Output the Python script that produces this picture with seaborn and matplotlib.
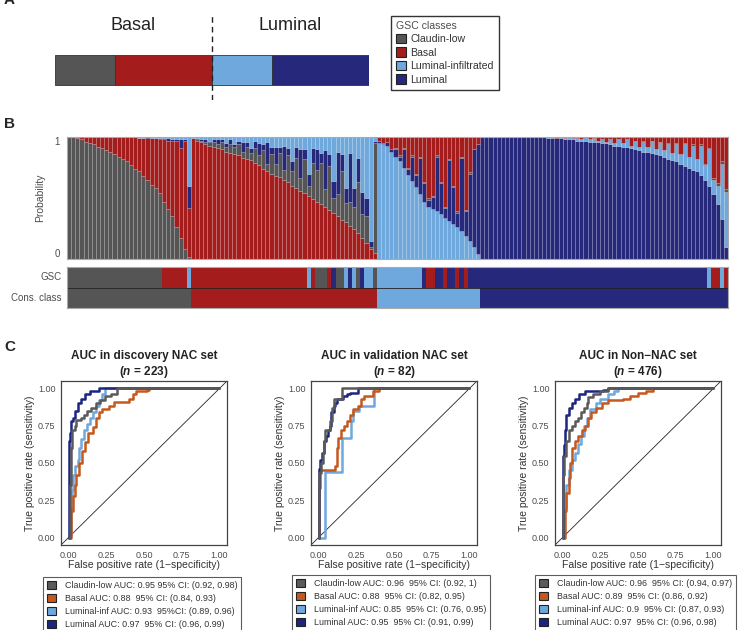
import numpy as np
import pandas as pd
import matplotlib
matplotlib.use("Agg")
import matplotlib.pyplot as plt
from matplotlib.colors import ListedColormap
from matplotlib.patches import Patch
import seaborn as sns

# ---------------- data ----------------
classes = ["Claudin-low", "Basal", "Luminal-infiltrated", "Luminal"]
codes = ["C", "B", "I", "L"]
class_share = [0.19, 0.31, 0.19, 0.31]  # panel A proportions

# panel B: class probabilities (%) per sample, grouped by consensus class
p_claudin = [100, 100, 99, 98, 96, 95, 94, 92, 91, 89, 88, 86, 84, 82, 80, 77, 74, 72, 68, 65, 61, 58, 54, 47, 41, 35, 26, 17, 8, 2,
             0, 1, 1, 2, 3, 4, 3, 6, 4, 7, 6, 9, 5, 10, 6, 12, 8, 15, 6, 16, 10, 20, 8, 22, 12, 25, 10, 28, 8, 30, 26, 34, 14, 36, 12, 18, 40, 16, 20, 18, 42, 20, 22, 2, 90,
             0, 0, 0, 0, 1, 1, 1, 1, 1, 1, 1, 1, 2, 1, 1, 1, 1, 1, 1, 1, 1, 1, 1, 0, 0,
             0, 0, 0, 0, 0, 0, 0, 0, 0, 0, 0, 0, 0, 0, 0, 0, 0, 0, 0, 0, 0, 0, 0, 0, 0, 0, 0, 0, 0, 0,
             0, 0, 0, 0, 0, 0, 0, 0, 0, 1, 0, 0, 0, 0, 0, 1, 0, 1, 0, 1, 0, 1, 0, 1, 1, 1, 1, 2, 2, 2]
p_basal = [0, 0, 1, 2, 4, 5, 6, 8, 9, 11, 12, 14, 16, 18, 20, 23, 26, 27, 31, 34, 38, 41, 44, 51, 56, 62, 71, 74, 89, 40,
           99, 97, 96, 94, 93, 92, 91, 90, 88, 87, 86, 85, 83, 82, 81, 79, 77, 74, 72, 70, 68, 67, 65, 63, 60, 58, 56, 54, 52, 49, 47, 45, 43, 40, 38, 35, 32, 30, 27, 25, 21, 17, 13, 8, 5,
           3, 5, 4, 10, 9, 15, 9, 25, 15, 30, 16, 37, 50, 48, 15, 37, 57, 18, 40, 61, 16, 60, 29, 10, 6,
           0, 0, 0, 0, 0, 0, 0, 0, 0, 0, 0, 0, 0, 0, 0, 0, 0, 0, 1, 0, 1, 0, 1, 1, 2, 0, 2, 1, 3, 2,
           4, 2, 5, 2, 5, 2, 7, 3, 8, 3, 8, 3, 10, 4, 11, 5, 13, 5, 14, 5, 16, 6, 18, 6, 22, 9, 34, 38, 20, 43]
p_luminf = [0, 0, 0, 0, 0, 0, 0, 0, 0, 0, 0, 0, 0, 0, 0, 0, 0, 1, 1, 0, 1, 1, 1, 1, 1, 2, 2, 2, 2, 40,
            1, 1, 2, 2, 3, 2, 2, 2, 5, 2, 6, 3, 4, 4, 9, 3, 5, 6, 4, 8, 8, 8, 7, 9, 20, 8, 10, 10, 30, 9, 10, 13, 11, 14, 36, 12, 14, 42, 13, 42, 17, 45, 50, 85, 3,
            95, 94, 93, 88, 84, 80, 75, 69, 64, 59, 53, 47, 43, 41, 39, 37, 34, 31, 29, 26, 23, 19, 15, 10, 4,
            0, 0, 0, 0, 0, 0, 0, 0, 0, 0, 0, 0, 0, 0, 0, 0, 1, 1, 0, 1, 1, 2, 1, 2, 1, 3, 2, 3, 1, 3,
            1, 4, 2, 5, 3, 6, 2, 7, 3, 8, 4, 10, 4, 11, 5, 12, 6, 14, 8, 18, 9, 20, 10, 24, 12, 30, 12, 15, 45, 45]
p_luminal = [0, 0, 0, 0, 0, 0, 0, 0, 0, 0, 0, 0, 0, 0, 0, 0, 0, 0, 0, 1, 0, 0, 1, 1, 2, 1, 1, 7, 1, 18,
             0, 1, 1, 2, 1, 2, 4, 2, 3, 4, 2, 3, 8, 4, 4, 6, 10, 5, 18, 6, 14, 5, 20, 6, 8, 9, 24, 8, 10, 12, 17, 8, 32, 10, 14, 35, 14, 12, 40, 15, 20, 18, 15, 5, 2,
             2, 1, 3, 2, 6, 4, 15, 5, 20, 10, 30, 15, 5, 10, 45, 25, 8, 50, 30, 12, 60, 20, 55, 80, 90,
             100, 100, 100, 100, 100, 100, 100, 100, 100, 100, 100, 100, 100, 100, 100, 100, 99, 99, 99, 99, 98, 98, 98, 97, 97, 97, 96, 96, 96, 95,
             95, 94, 93, 93, 92, 92, 91, 90, 89, 88, 88, 87, 86, 85, 84, 82, 81, 80, 78, 76, 75, 73, 72, 69, 65, 60, 53, 45, 33, 10]

cons_runs = [("C", 30), ("B", 45), ("I", 25), ("L", 60)]
gsc_runs = [("C", 23), ("B", 6), ("I", 1),
            ("B", 28), ("I", 1), ("B", 1), ("C", 3), ("B", 1), ("L", 1), ("C", 2), ("I", 1), ("L", 1),
            ("I", 1), ("C", 1), ("L", 1), ("I", 2), ("C", 1),
            ("I", 11), ("L", 1), ("B", 2), ("L", 2), ("B", 1), ("L", 2), ("B", 1), ("L", 1), ("B", 1), ("L", 3),
            ("L", 55), ("I", 1), ("B", 2), ("I", 1), ("B", 1)]

# panel C: ROC curves (fpr, tpr)
disc_claudin = [(0, 0), (0.01, 0.35), (0.015, 0.6), (0.02, 0.72), (0.04, 0.75), (0.05, 0.79), (0.08, 0.80), (0.10, 0.82),
                (0.12, 0.85), (0.15, 0.87), (0.18, 0.90), (0.21, 0.92), (0.24, 0.95), (0.28, 0.96), (0.32, 1.0), (1, 1)]
disc_basal = [(0, 0), (0.01, 0.0), (0.015, 0.18), (0.03, 0.28), (0.04, 0.35), (0.05, 0.42), (0.07, 0.5), (0.09, 0.58),
              (0.11, 0.64), (0.13, 0.70), (0.16, 0.74), (0.18, 0.80), (0.20, 0.84), (0.22, 0.86), (0.27, 0.88), (0.30, 0.91),
              (0.40, 0.93), (0.43, 0.96), (0.45, 0.98), (0.52, 0.99), (0.53, 1.0), (1, 1)]
disc_luminf = [(0, 0), (0.01, 0.02), (0.015, 0.2), (0.02, 0.32), (0.03, 0.42), (0.04, 0.48), (0.06, 0.52), (0.07, 0.6),
               (0.08, 0.66), (0.10, 0.72), (0.12, 0.76), (0.14, 0.8), (0.16, 0.84), (0.18, 0.88), (0.20, 0.92), (0.22, 0.96),
               (0.24, 1.0), (1, 1)]
disc_luminal = [(0, 0), (0, 0.45), (0.005, 0.65), (0.01, 0.70), (0.015, 0.78), (0.03, 0.80), (0.04, 0.85), (0.06, 0.90),
                (0.08, 0.93), (0.11, 0.96), (0.14, 0.98), (0.20, 1.0), (1, 1)]

val_claudin = [(0, 0), (0, 0.43), (0.015, 0.5), (0.03, 0.57), (0.035, 0.65), (0.045, 0.72), (0.07, 0.72), (0.075, 0.78),
               (0.09, 0.87), (0.10, 0.93), (0.145, 0.93), (0.155, 1.0), (1, 1)]
val_basal = [(0, 0), (0, 0.2), (0.005, 0.33), (0.01, 0.45), (0.10, 0.45), (0.11, 0.48), (0.12, 0.6), (0.13, 0.67),
             (0.15, 0.72), (0.17, 0.75), (0.19, 0.78), (0.21, 0.82), (0.23, 0.86), (0.26, 0.88), (0.28, 0.93), (0.30, 0.95),
             (0.34, 0.95), (0.36, 0.98), (0.40, 1.0), (1, 1)]
val_luminf = [(0, 0), (0.04, 0), (0.045, 0.44), (0.15, 0.44), (0.155, 0.67), (0.21, 0.67), (0.215, 0.78), (0.23, 0.85),
              (0.27, 0.88), (0.36, 0.88), (0.365, 1.0), (1, 1)]
val_luminal = [(0, 0), (0, 0.46), (0.01, 0.52), (0.02, 0.57), (0.035, 0.65), (0.05, 0.68), (0.06, 0.72), (0.075, 0.75),
               (0.085, 0.84), (0.10, 0.88), (0.11, 0.90), (0.125, 0.93), (0.16, 0.95), (0.19, 0.96), (0.21, 0.97), (0.26, 1.0), (1, 1)]

non_claudin = [(0, 0), (0, 0.42), (0.01, 0.55), (0.025, 0.65), (0.04, 0.72), (0.06, 0.75), (0.08, 0.78), (0.10, 0.80),
               (0.12, 0.84), (0.14, 0.87), (0.16, 0.90), (0.17, 0.94), (0.20, 0.96), (0.25, 0.98), (0.30, 1.0), (1, 1)]
non_basal = [(0, 0), (0.01, 0), (0.015, 0.18), (0.025, 0.3), (0.04, 0.4), (0.05, 0.5), (0.06, 0.6), (0.08, 0.65),
             (0.10, 0.68), (0.13, 0.72), (0.15, 0.75), (0.17, 0.80), (0.19, 0.84), (0.22, 0.87), (0.26, 0.90), (0.30, 0.92),
             (0.40, 0.93), (0.45, 0.95), (0.50, 0.97), (0.55, 0.98), (0.60, 1.0), (1, 1)]
non_luminf = [(0, 0), (0.005, 0.0), (0.01, 0.2), (0.02, 0.35), (0.04, 0.45), (0.06, 0.52), (0.08, 0.57), (0.10, 0.63),
              (0.12, 0.68), (0.14, 0.75), (0.16, 0.80), (0.18, 0.86), (0.22, 0.90), (0.25, 0.93), (0.30, 0.96), (0.34, 0.98),
              (0.37, 1.0), (1, 1)]
non_luminal = [(0, 0), (0, 0.55), (0.01, 0.62), (0.015, 0.72), (0.025, 0.82), (0.04, 0.87), (0.06, 0.90), (0.08, 0.93),
               (0.11, 0.96), (0.15, 0.98), (0.20, 0.985), (0.27, 0.99), (0.30, 1.0), (1, 1)]

disc_labels = ["Claudin-low AUC: 0.95 95% CI: (0.92, 0.98)", "Basal AUC: 0.88  95% CI: (0.84, 0.93)",
               "Luminal-inf AUC: 0.93  95%CI: (0.89, 0.96)", "Luminal AUC: 0.97  95% CI: (0.96, 0.99)"]
val_labels = ["Claudin-low AUC: 0.96  95% CI: (0.92, 1)", "Basal AUC: 0.88  95% CI: (0.82, 0.95)",
              "Luminal-inf AUC: 0.85  95% CI: (0.76, 0.95)", "Luminal AUC: 0.95  95% CI: (0.91, 0.99)"]
non_labels = ["Claudin-low AUC: 0.96  95% CI: (0.94, 0.97)", "Basal AUC: 0.89  95% CI: (0.86, 0.92)",
              "Luminal-inf AUC: 0.9  95% CI: (0.87, 0.93)", "Luminal AUC: 0.97  95% CI: (0.96, 0.98)"]

# ---------------- style ----------------
sns.set_theme(style="white")
plt.rcParams["font.family"] = ["Liberation Sans", "DejaVu Sans"]
plt.rcParams["mathtext.fontset"] = "custom"
plt.rcParams["mathtext.rm"] = "Liberation Sans"
plt.rcParams["mathtext.it"] = "Liberation Sans:italic"
plt.rcParams["mathtext.bf"] = "Liberation Sans:bold"
plt.rcParams["mathtext.bfit"] = "Liberation Sans:bold:italic"

cls_col = {"C": "#555555", "B": "#a51c1c", "I": "#6fa8dc", "L": "#26297b"}
roc_col = {"Claudin-low": "#5a5a5a", "Basal": "#c5581d", "Luminal-inf": "#6fa8dc", "Luminal": "#1d2580"}
txt_col = "#4d4d4d"

W, H = 740, 630
fig = plt.figure(figsize=(7.4, 6.3), dpi=100)


def px_axes(x0, y0, x1, y1):
    return fig.add_axes([x0 / W, 1 - y1 / H, (x1 - x0) / W, (y1 - y0) / H])


# ---------------- panel A ----------------
axa = px_axes(55, 0, 369, 100)
left = 0
for c, s in zip(codes, class_share):
    axa.barh(0.30, s, left=left, height=0.30, color=cls_col[c], edgecolor="#333333", linewidth=0.6)
    left += s
split = class_share[0] + class_share[1]
axa.plot([split, split], [0.0, 0.85], ls=(0, (4, 3)), color="#222222", lw=1)
axa.text(split / 2, 0.75, "Basal", ha="center", va="center", fontsize=13, color="#222222")
axa.text(split + (1 - split) / 2, 0.75, "Luminal", ha="center", va="center", fontsize=13, color="#222222")
axa.set_xlim(0, 1)
axa.set_ylim(0, 1)
axa.axis("off")

leg_a = fig.legend(handles=[Patch(facecolor=cls_col[c], edgecolor="#222222", lw=0.8, label=l) for c, l in zip(codes, classes)],
                   title="GSC classes", loc="upper left", bbox_to_anchor=(391 / W, 1 - 16 / H), fontsize=7.6,
                   title_fontsize=7.6, frameon=True, fancybox=False, edgecolor="black", handlelength=1.0,
                   handleheight=1.0, handletextpad=0.4, labelspacing=0.3, borderpad=0.45, borderaxespad=0,
                   alignment="left")
leg_a.get_frame().set_linewidth(1.0)
leg_a.get_title().set_color(txt_col)
for t in leg_a.get_texts():
    t.set_color("#333333")

# ---------------- panel B ----------------
probs = {"C": np.array(p_claudin, float), "B": np.array(p_basal, float),
         "I": np.array(p_luminf, float), "L": np.array(p_luminal, float)}
total = sum(probs.values())
for k in probs:
    probs[k] = probs[k] / total
cons = [c for c, n in cons_runs for _ in range(n)]
gsc = [c for c, n in gsc_runs for _ in range(n)]
N = len(cons)
stack_order = {"C": ["C", "B", "L", "I"], "B": ["B", "C", "L", "I"],
               "I": ["I", "L", "C", "B"], "L": ["L", "I", "C", "B"]}

axb = px_axes(67, 137, 728, 259)
xs = np.arange(N)
bottom = np.zeros(N)
for level in range(4):
    lv = [stack_order[cons[i]][level] for i in range(N)]
    h = np.array([probs[lv[i]][i] for i in range(N)])
    axb.bar(xs, h, bottom=bottom, width=1.0, color=[cls_col[c] for c in lv],
            edgecolor=(1, 1, 1, 0.18), linewidth=0.4)
    bottom += h
axb.set_xlim(-0.5, N - 0.5)
axb.set_ylim(0, 1)
axb.set_xticks([])
axb.set_yticks([0, 1])
axb.set_yticklabels(["0", "1"], fontsize=7, color=txt_col)
axb.get_yticklabels()[0].set_va("bottom")
axb.get_yticklabels()[1].set_va("top")
axb.tick_params(axis="y", length=0, pad=5)
axb.set_ylabel("Probability", fontsize=7.5, color=txt_col, labelpad=7)
for sp in axb.spines.values():
    sp.set_color("#aaaaaa")
    sp.set_linewidth(0.8)

axs = px_axes(67, 267, 728, 308)
strip = np.array([[codes.index(c) for c in gsc], [codes.index(c) for c in cons]])
sns.heatmap(strip, ax=axs, cmap=ListedColormap([cls_col[c] for c in codes]), vmin=-0.5, vmax=3.5,
            cbar=False, xticklabels=False, yticklabels=["GSC", "Cons. class"], linewidths=0)
axs.axhline(1, color="#222222", lw=0.6)
axs.set_yticklabels(["GSC", "Cons. class"], rotation=0, fontsize=7, color=txt_col)
axs.tick_params(axis="y", length=0, pad=4)
for sp in axs.spines.values():
    sp.set_visible(True)
    sp.set_color("#aaaaaa")
    sp.set_linewidth(0.8)

# ---------------- panel C ----------------
names = ["Claudin-low", "Basal", "Luminal-inf", "Luminal"]
draw_order = ["Luminal-inf", "Basal", "Luminal", "Claudin-low"]


def roc_panel(box, curves, title, n, labels, leg_xy):
    ax = px_axes(*box)
    df = pd.concat([pd.DataFrame({"fpr": [p[0] for p in pts], "tpr": [p[1] for p in pts], "cls": nm})
                    for nm, pts in zip(names, curves)], ignore_index=True)
    ax.axline((0, 0), (1, 1), color="#222222", lw=0.6, zorder=1)
    sns.lineplot(data=df, x="fpr", y="tpr", hue="cls", hue_order=draw_order, palette=roc_col,
                 sort=False, estimator=None, drawstyle="steps-post", linewidth=1.8, legend=False, ax=ax)
    ax.set_xlim(-0.05, 1.05)
    ax.set_ylim(-0.05, 1.05)
    ticks = [0, 0.25, 0.5, 0.75, 1]
    ax.set_xticks(ticks)
    ax.set_yticks(ticks)
    ax.set_xticklabels(["0.00", "0.25", "0.50", "0.75", "1.00"], fontsize=6.5, color=txt_col)
    ax.set_yticklabels(["0.00", "0.25", "0.50", "0.75", "1.00"], fontsize=6.5, color=txt_col)
    ax.tick_params(length=2.5, width=0.6, color="#333333", pad=1.5)
    ax.set_xlabel("False positive rate (1\u2212specificity)", fontsize=7.5, color="#333333", labelpad=0)
    ax.set_ylabel("True positive rate (sensitivity)", fontsize=7.5, color="#333333", labelpad=2)
    ax.set_title(title + "\n" + r"($\mathbfit{n}$ = " + str(n) + ")", fontsize=8.5, fontweight="bold",
                 color="#222222", pad=4, linespacing=1.25)
    for sp in ax.spines.values():
        sp.set_color("#444444")
        sp.set_linewidth(0.9)
    leg = ax.legend(handles=[Patch(facecolor=roc_col[nm], edgecolor="#222222", lw=0.8, label=lb)
                             for nm, lb in zip(names, labels)],
                    loc="upper left", bbox_to_anchor=(leg_xy[0] / W, 1 - leg_xy[1] / H), bbox_transform=fig.transFigure,
                    fontsize=6.4, frameon=True, fancybox=False, edgecolor="#333333", handlelength=1.0,
                    handleheight=1.0, handletextpad=1.0, labelspacing=0.45, borderpad=0.45, borderaxespad=0)
    leg.get_frame().set_linewidth(0.8)
    for t in leg.get_texts():
        t.set_color("#333333")


roc_panel((61, 381, 227, 545), [disc_claudin, disc_basal, disc_luminf, disc_luminal],
          "AUC in discovery NAC set", 223, disc_labels, (43, 577))
roc_panel((311, 381, 477, 545), [val_claudin, val_basal, val_luminf, val_luminal],
          "AUC in validation NAC set", 82, val_labels, (292, 575))
roc_panel((555, 381, 721, 545), [non_claudin, non_basal, non_luminf, non_luminal],
          "AUC in Non\u2212NAC set", 476, non_labels, (535, 575))

# panel letters
fig.text(4 / W, 1.0, "A", fontsize=11, fontweight="bold", va="center")
fig.text(4 / W, 1 - 124 / H, "B", fontsize=11, fontweight="bold", va="center")
fig.text(4 / W, 1 - 347 / H, "C", fontsize=11, fontweight="bold", va="center")

fig.savefig("out.png", dpi=100, facecolor="white")
